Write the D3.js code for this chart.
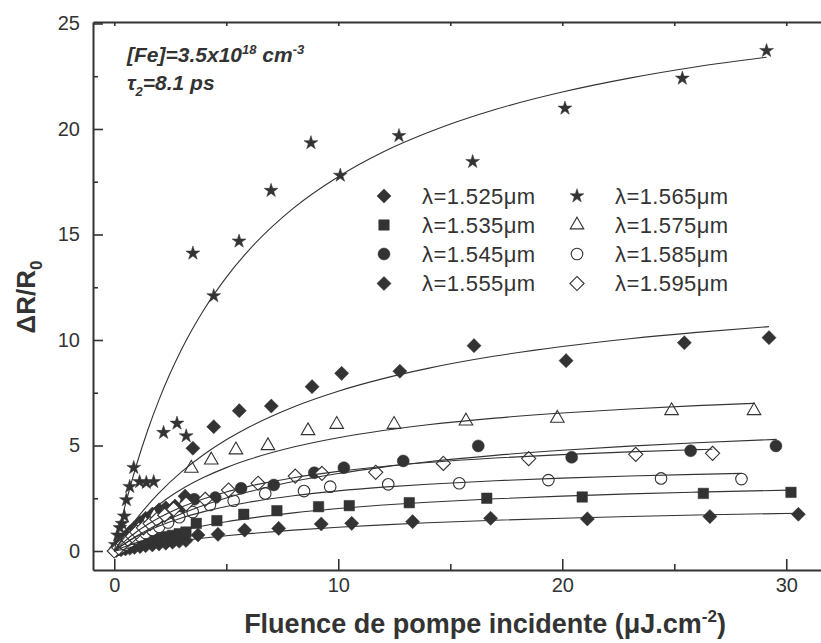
<!DOCTYPE html>
<html><head><meta charset="utf-8">
<script src="https://cdn.jsdelivr.net/npm/d3@7"></script>
<style>
body{margin:0;background:#fff;}
svg{display:block;}
text{font-family:"Liberation Sans",Arial,Helvetica,sans-serif;fill:#333;}
</style></head><body>
<svg id="chart" width="821" height="643"></svg>
<script>
// ---------- data ----------
const xMajorTicks = [0, 10, 20, 30];
const xMinorTicks = [5, 15, 25];
const xTopTicks = [0, 5, 10, 15, 20, 25, 30];
const yMajorTicks = [0, 5, 10, 15, 20, 25];
const yMinorTicks = [2.5, 7.5, 12.5, 17.5, 22.5];

const seriesLabels = ["λ=1.525μm", "λ=1.535μm", "λ=1.545μm", "λ=1.555μm",
                      "λ=1.565μm", "λ=1.575μm", "λ=1.585μm", "λ=1.595μm"];

const s1525 = [[0.1,0.03],[0.3,0.06],[0.5,0.1],[0.7,0.13],[0.9,0.17],[1.15,0.21],[1.4,0.25],[1.7,0.29],[2.0,0.33],[2.3,0.37],[2.6,0.42],[2.9,0.46],[3.2,0.5],
  [3.74,0.76],[4.63,0.79],[5.82,0.99],[7.34,1.07],[9.24,1.28],[10.6,1.31],[13.32,1.39],[16.8,1.55],[21.12,1.52],[26.59,1.63],[30.54,1.74]];
const s1535 = [[0.1,0.04],[0.3,0.1],[0.5,0.17],[0.7,0.24],[0.9,0.3],[1.15,0.38],[1.4,0.45],[1.7,0.52],[2.0,0.6],[2.3,0.68],[2.6,0.74],[2.9,0.82],[3.2,0.9],
  [3.66,1.31],[4.58,1.44],[5.78,1.74],[7.26,1.91],[9.12,2.1],[10.49,2.15],[13.17,2.29],[16.63,2.5],[20.89,2.56],[26.3,2.73],[30.21,2.78]];
const s1545 = [[0.1,0.07],[0.3,0.2],[0.5,0.34],[0.7,0.48],[0.9,0.62],[1.15,0.78],[1.4,0.92],[1.7,1.1],[2.0,1.26],[2.3,1.45],[2.6,1.65],[2.9,1.95],[3.2,2.3],
  [3.57,2.45],[4.51,2.53],[5.66,2.97],[7.12,3.13],[8.93,3.71],[10.25,3.95],[12.9,4.27],[16.25,4.98],[20.42,4.44],[25.73,4.75],[29.54,4.98]];
const s1555 = [[0.1,0.15],[0.3,0.4],[0.5,0.65],[0.7,0.9],[0.9,1.1],[1.15,1.35],[1.4,1.55],[1.7,1.75],[2.0,1.95],[2.3,2.05],[2.71,2.13],[3.16,2.6],
  [3.51,4.87],[4.44,5.89],[5.58,6.65],[7.01,6.87],[8.83,7.79],[10.15,8.42],[12.75,8.52],[16.06,9.73],[20.17,9.02],[25.45,9.87],[29.23,10.11]];
const s1565 = [[0.05,0.3],[0.15,0.75],[0.25,1.1],[0.35,1.3],[0.45,1.65],[0.54,2.42],[0.69,3.05],[0.87,3.95],[1.13,3.28],[1.43,3.24],[1.76,3.28],[2.2,5.61],[2.8,6.05],[3.21,5.45],
  [3.51,14.11],[4.44,12.09],[5.57,14.68],[7.0,17.08],[8.78,19.34],[10.09,17.8],[12.71,19.68],[16.0,18.45],[20.12,20.98],[25.36,22.4],[29.12,23.71]];
const s1575 = [[0.1,0.1],[0.3,0.3],[0.5,0.5],[0.7,0.7],[0.9,0.9],[1.07,1.07],[1.4,1.3],[1.78,1.66],[2.19,1.71],[2.71,1.94],
  [3.44,3.92],[4.33,4.31],[5.43,4.79],[6.86,4.99],[8.65,5.7],[9.93,6.0],[12.49,6.0],[15.7,6.16],[19.78,6.29],[24.88,6.65],[28.56,6.65]];
const s1585 = [[0.1,0.06],[0.3,0.18],[0.5,0.3],[0.7,0.45],[0.9,0.58],[1.15,0.72],[1.4,0.85],[1.7,1.0],[2.0,1.15],[2.4,1.35],[2.9,1.6],[3.5,1.85],[4.27,2.18],
  [5.33,2.38],[6.74,2.73],[8.47,2.84],[9.64,3.05],[12.23,3.16],[15.4,3.21],[19.38,3.36],[24.41,3.44],[28.0,3.41]];
const s1595 = [[0,0],[0.2,0.15],[0.4,0.35],[0.6,0.55],[0.8,0.72],[1.0,0.9],[1.3,1.1],[1.6,1.3],[1.9,1.5],[2.25,1.7],[2.65,1.98],
  [3.21,2.23],[4.06,2.45],[5.1,2.89],[6.42,3.21],[8.08,3.55],[9.27,3.68],[11.67,3.73],[14.69,4.15],[18.5,4.38],[23.28,4.58],[26.71,4.63]];

// fitted curves
const fitX = [0,0.25,0.5,1,1.5,2,3,4,5,6,8,10,12,14,17,20,23,26];
const fit1525 = [0,0.050,0.098,0.188,0.272,0.350,0.491,0.615,0.724,0.822,0.988,1.125,1.239,1.336,1.457,1.556,1.637,1.706];
const fit1535 = [0,0.108,0.210,0.397,0.564,0.716,0.979,1.199,1.386,1.546,1.808,2.013,2.178,2.312,2.475,2.603,2.706,2.791];
const fit1545 = [0,0.193,0.375,0.711,1.013,1.287,1.765,2.167,2.509,2.805,3.290,3.670,3.977,4.229,4.534,4.775,4.970,5.131];
const fit1555 = [0,0.420,0.814,1.535,2.178,2.755,3.749,4.574,5.270,5.865,6.828,7.575,8.170,8.656,9.238,9.694,10.061,10.363];
const fit1565 = [0,1.155,2.219,4.113,5.748,7.175,9.544,11.43,12.97,14.25,16.25,17.74,18.91,19.83,20.92,21.75,22.41,22.95];
const fit1575 = [0,0.358,0.687,1.270,1.771,2.206,2.923,3.491,3.952,4.333,4.927,5.369,5.710,5.982,6.299,6.542,6.733,6.889];
const fit1585 = [0,0.194,0.371,0.685,0.953,1.185,1.566,1.866,2.109,2.308,2.619,2.849,3.026,3.166,3.330,3.455,3.554,3.634];
const fit1595 = [0,0.259,0.496,0.913,1.270,1.578,2.083,2.480,2.800,3.063,3.472,3.774,4.007,4.191,4.406,4.570,4.699,4.803];
const fitEnds = [[30.54,1.792],[30.21,2.888],[29.57,5.290],[29.23,10.633],[29.12,23.40],[28.57,7.000],[28.0,3.679],[26.7,4.825]];

// ---------- drawing ----------
const INK = "#333";
const svg = d3.select("#chart");
const x = d3.scaleLinear().domain([-0.95, 31.64]).range([93, 823]);
const y = d3.scaleLinear().domain([-0.9, 25.07]).range([570, 22]);

const diamond = {draw(ctx, size){ const r = Math.sqrt(size/2); ctx.moveTo(0,-r); ctx.lineTo(r,0); ctx.lineTo(0,r); ctx.lineTo(-r,0); ctx.closePath(); }};

const seriesData = [s1525, s1535, s1545, s1555, s1565, s1575, s1585, s1595];
const fitData = [fit1525, fit1535, fit1545, fit1555, fit1565, fit1575, fit1585, fit1595];
const symbols = [
  {type: diamond, size: 100, filled: true},
  {type: d3.symbolSquare, size: 110, filled: true},
  {type: d3.symbolCircle, size: 113, filled: true},
  {type: diamond, size: 100, filled: true},
  {type: d3.symbolStar, size: 60, filled: true},
  {type: d3.symbolTriangle, size: 80, filled: false},
  {type: d3.symbolCircle, size: 105, filled: false},
  {type: diamond, size: 100, filled: false}
];

// axes
function styleAxis(g, keepDomain){
  g.selectAll("path.domain").attr("stroke", INK).attr("stroke-width", 2).style("display", keepDomain ? null : "none");
  g.selectAll(".tick line").attr("stroke", INK).attr("stroke-width", 1.6);
  g.selectAll(".tick text").attr("fill", INK).style("font-size", "20px").style("font-family", '"Liberation Sans",Arial,sans-serif');
}
svg.append("g").attr("transform", "translate(0,570)")
  .call(d3.axisBottom(x).tickValues(xMajorTicks).tickSize(-11).tickSizeOuter(0).tickPadding(8).tickFormat(d3.format("d")))
  .call(g => styleAxis(g, true));
svg.append("g").attr("transform", "translate(0,570)")
  .call(d3.axisBottom(x).tickValues(xMinorTicks).tickSize(-6).tickSizeOuter(0).tickFormat(""))
  .call(g => styleAxis(g, false));
svg.append("g").attr("transform", "translate(0,22)")
  .call(d3.axisTop(x).tickValues(xTopTicks).tickSize(-4).tickSizeOuter(0).tickFormat(""))
  .call(g => styleAxis(g, true));
svg.append("g").attr("transform", "translate(93,0)")
  .call(d3.axisLeft(y).tickValues(yMajorTicks).tickSize(-10).tickSizeOuter(0).tickPadding(13).tickFormat(d3.format("d")))
  .call(g => styleAxis(g, true));
svg.append("g").attr("transform", "translate(93,0)")
  .call(d3.axisLeft(y).tickValues(yMinorTicks).tickSize(-5).tickSizeOuter(0).tickFormat(""))
  .call(g => styleAxis(g, false));

// markers
seriesData.forEach((data, i) => {
  const sym = symbols[i];
  svg.append("g").selectAll("path").data(data).join("path")
    .attr("d", d3.symbol().type(sym.type).size(sym.size))
    .attr("transform", d => `translate(${x(d[0])},${y(d[1])})`)
    .attr("fill", sym.filled ? INK : "#fff")
    .attr("stroke", INK)
    .attr("stroke-width", sym.filled ? 0.5 : 1.1);
});

// fit curves
const line = d3.line().x(d => x(d[0])).y(d => y(d[1])).curve(d3.curveMonotoneX);
fitData.forEach((ys, i) => {
  const pts = fitX.map((fx, j) => [fx, ys[j]]).filter(p => p[0] < fitEnds[i][0]);
  pts.push(fitEnds[i]);
  svg.append("path").datum(pts).attr("d", line)
    .attr("fill", "none").attr("stroke", INK).attr("stroke-width", 1.1);
});

// legend
const legCols = [384, 577], legText = [422, 615], legRows = [196, 225, 254, 283.5];
seriesLabels.forEach((lab, i) => {
  const col = Math.floor(i / 4), row = i % 4, sym = symbols[i];
  svg.append("path")
    .attr("d", d3.symbol().type(sym.type).size(sym.size))
    .attr("transform", `translate(${legCols[col]},${legRows[row]})`)
    .attr("fill", sym.filled ? INK : "#fff").attr("stroke", INK)
    .attr("stroke-width", sym.filled ? 0.5 : 1.1);
  svg.append("text").attr("x", legText[col]).attr("y", legRows[row] + 7.5)
    .style("font-size", "22px").style("letter-spacing", "0.4px").text(lab);
});

// annotation
const ann = svg.append("text").attr("x", 127).attr("y", 62)
  .style("font-size", "21px").style("font-weight", "bold").style("font-style", "italic");
ann.append("tspan").text("[Fe]=3.5x10");
ann.append("tspan").attr("dy", -8).style("font-size", "13px").text("18");
ann.append("tspan").attr("dy", 8).text(" cm");
ann.append("tspan").attr("dy", -8).style("font-size", "13px").text("-3");
const ann2 = svg.append("text").attr("x", 127).attr("y", 90)
  .style("font-size", "21px").style("font-weight", "bold").style("font-style", "italic");
ann2.append("tspan").text("τ");
ann2.append("tspan").attr("dy", 6).style("font-size", "13px").text("2");
ann2.append("tspan").attr("dy", -6).text("=8.1 ps");

// axis titles
const yt = svg.append("text").attr("transform", "translate(35,297) rotate(-90)")
  .attr("text-anchor", "middle").style("font-size", "26px").style("font-weight", "bold");
yt.append("tspan").text("ΔR/R");
yt.append("tspan").attr("dy", 7).style("font-size", "17px").text("0");

const xt = svg.append("text").attr("x", 485).attr("y", 633)
  .attr("text-anchor", "middle").style("font-size", "27px").style("font-weight", "bold");
xt.append("tspan").text("Fluence de pompe incidente (μJ.cm");
xt.append("tspan").attr("dy", -11).style("font-size", "17px").text("-2");
xt.append("tspan").attr("dy", 11).text(")");
</script>
</body></html>
